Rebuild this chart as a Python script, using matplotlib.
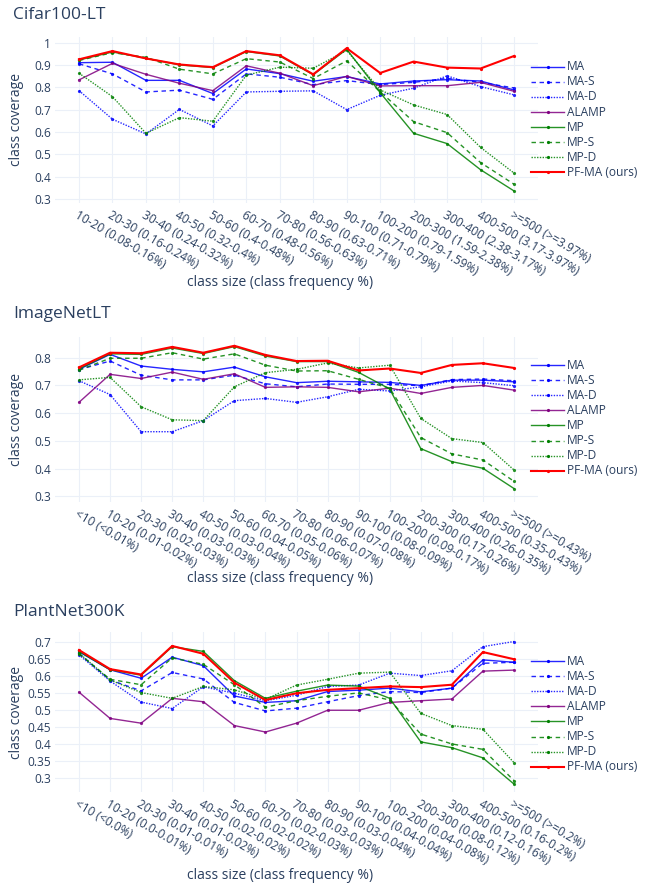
import matplotlib
matplotlib.use("Agg")

import matplotlib.pyplot as plt
from matplotlib.lines import Line2D
import numpy as np


# =========================================================
# DATA
# =========================================================

methods = ["MA", "MA-S", "MA-D", "ALAMP", "MP", "MP-S", "MP-D", "PF-MA (ours)"]

cifar_sizes = [
    "10-20 (0.08-0.16%)", "20-30 (0.16-0.24%)", "30-40 (0.24-0.32%)",
    "40-50 (0.32-0.4%)", "50-60 (0.4-0.48%)", "60-70 (0.48-0.56%)",
    "70-80 (0.56-0.63%)", "80-90 (0.63-0.71%)", "90-100 (0.71-0.79%)",
    "100-200 (0.79-1.59%)", "200-300 (1.59-2.38%)", "300-400 (2.38-3.17%)",
    "400-500 (3.17-3.97%)", ">=500 (>=3.97%)",
]
cifar_ma = [0.910, 0.912, 0.831, 0.831, 0.772, 0.882, 0.861, 0.827, 0.848, 0.815, 0.828, 0.834, 0.828, 0.788]
cifar_ma_s = [0.905, 0.860, 0.779, 0.787, 0.746, 0.860, 0.845, 0.812, 0.830, 0.812, 0.822, 0.840, 0.822, 0.797]
cifar_ma_d = [0.785, 0.657, 0.591, 0.701, 0.627, 0.779, 0.782, 0.784, 0.700, 0.764, 0.796, 0.851, 0.803, 0.766]
cifar_alamp = [0.833, 0.907, 0.858, 0.818, 0.785, 0.896, 0.863, 0.807, 0.849, 0.806, 0.807, 0.807, 0.822, 0.782]
cifar_mp = [0.922, 0.958, 0.930, 0.900, 0.888, 0.960, 0.940, 0.856, 0.970, 0.776, 0.594, 0.548, 0.431, 0.336]
cifar_mp_s = [0.920, 0.955, 0.934, 0.881, 0.860, 0.928, 0.913, 0.839, 0.918, 0.780, 0.646, 0.597, 0.463, 0.366]
cifar_mp_d = [0.863, 0.758, 0.594, 0.664, 0.648, 0.854, 0.890, 0.885, 0.965, 0.788, 0.721, 0.678, 0.531, 0.416]
cifar_pfma = [0.925, 0.962, 0.929, 0.902, 0.890, 0.962, 0.943, 0.858, 0.975, 0.864, 0.915, 0.888, 0.884, 0.940]

imagenet_sizes = [
    "<10 (<0.01%)", "10-20 (0.01-0.02%)", "20-30 (0.02-0.03%)",
    "30-40 (0.03-0.03%)", "40-50 (0.03-0.04%)", "50-60 (0.04-0.05%)",
    "60-70 (0.05-0.06%)", "70-80 (0.06-0.07%)", "80-90 (0.07-0.08%)",
    "90-100 (0.08-0.09%)", "100-200 (0.09-0.17%)", "200-300 (0.17-0.26%)",
    "300-400 (0.26-0.35%)", "400-500 (0.35-0.43%)", ">=500 (>=0.43%)",
]
imagenet_ma = [0.758, 0.812, 0.770, 0.758, 0.749, 0.766, 0.731, 0.710, 0.715, 0.713, 0.711, 0.700, 0.719, 0.719, 0.713]
imagenet_ma_s = [0.757, 0.788, 0.737, 0.720, 0.720, 0.737, 0.706, 0.695, 0.705, 0.704, 0.704, 0.699, 0.721, 0.723, 0.717]
imagenet_ma_d = [0.717, 0.667, 0.533, 0.533, 0.573, 0.645, 0.653, 0.639, 0.659, 0.686, 0.680, 0.695, 0.716, 0.710, 0.699]
imagenet_alamp = [0.639, 0.740, 0.725, 0.748, 0.722, 0.742, 0.693, 0.695, 0.693, 0.677, 0.690, 0.671, 0.693, 0.700, 0.683]
imagenet_mp = [0.760, 0.814, 0.812, 0.835, 0.815, 0.840, 0.806, 0.786, 0.786, 0.747, 0.687, 0.472, 0.425, 0.401, 0.328]
imagenet_mp_s = [0.755, 0.798, 0.798, 0.818, 0.795, 0.814, 0.773, 0.752, 0.753, 0.722, 0.690, 0.512, 0.453, 0.431, 0.354]
imagenet_mp_d = [0.720, 0.729, 0.623, 0.576, 0.573, 0.695, 0.746, 0.758, 0.781, 0.763, 0.773, 0.581, 0.508, 0.494, 0.395]
imagenet_pfma = [0.765, 0.818, 0.816, 0.839, 0.818, 0.843, 0.810, 0.788, 0.789, 0.754, 0.761, 0.745, 0.774, 0.780, 0.763]

plantnet_sizes = [
    "<10 (<0.0%)", "10-20 (0.0-0.01%)", "20-30 (0.01-0.01%)",
    "30-40 (0.01-0.02%)", "40-50 (0.02-0.02%)", "50-60 (0.02-0.02%)",
    "60-70 (0.02-0.03%)", "70-80 (0.03-0.03%)", "80-90 (0.03-0.04%)",
    "90-100 (0.04-0.04%)", "100-200 (0.04-0.08%)", "200-300 (0.08-0.12%)",
    "300-400 (0.12-0.16%)", "400-500 (0.16-0.2%)", ">=500 (>=0.2%)",
]
plantnet_ma = [0.672, 0.619, 0.594, 0.656, 0.631, 0.542, 0.523, 0.528, 0.555, 0.559, 0.565, 0.554, 0.565, 0.648, 0.641]
plantnet_ma_s = [0.667, 0.589, 0.557, 0.611, 0.592, 0.523, 0.498, 0.506, 0.525, 0.543, 0.555, 0.552, 0.565, 0.638, 0.641]
plantnet_ma_d = [0.663, 0.586, 0.524, 0.505, 0.569, 0.550, 0.528, 0.544, 0.570, 0.574, 0.609, 0.602, 0.616, 0.687, 0.702]
plantnet_alamp = [0.553, 0.476, 0.462, 0.535, 0.525, 0.455, 0.436, 0.462, 0.500, 0.500, 0.523, 0.528, 0.533, 0.615, 0.618]
plantnet_mp = [0.673, 0.619, 0.603, 0.687, 0.673, 0.587, 0.535, 0.556, 0.574, 0.571, 0.535, 0.407, 0.390, 0.360, 0.283]
plantnet_mp_s = [0.666, 0.591, 0.575, 0.654, 0.635, 0.575, 0.509, 0.528, 0.541, 0.551, 0.530, 0.430, 0.401, 0.385, 0.293]
plantnet_mp_d = [0.668, 0.589, 0.552, 0.535, 0.570, 0.560, 0.532, 0.574, 0.591, 0.609, 0.612, 0.491, 0.455, 0.444, 0.346]
plantnet_pfma = [0.677, 0.621, 0.605, 0.689, 0.666, 0.581, 0.530, 0.550, 0.560, 0.565, 0.570, 0.568, 0.575, 0.671, 0.650]

cifar_yticks = [0.3, 0.4, 0.5, 0.6, 0.7, 0.8, 0.9, 1.0]
imagenet_yticks = [0.3, 0.4, 0.5, 0.6, 0.7, 0.8]
plantnet_yticks = [0.3, 0.35, 0.4, 0.45, 0.5, 0.55, 0.6, 0.65, 0.7]


# =========================================================
# STYLE
# =========================================================

W, H = 647, 888
TEXT = "#2a3f5f"
GRID = "#ebf0f8"

plt.rcParams["font.family"] = ["Open Sans", "DejaVu Sans"]

DASH = (3.2, 2.6)
DOT = (1.0, 1.0)

line_styles = {
    "MA": dict(color="blue", dashes=()),
    "MA-S": dict(color="blue", dashes=DASH),
    "MA-D": dict(color="blue", dashes=DOT),
    "ALAMP": dict(color="purple", dashes=()),
    "MP": dict(color="green", dashes=()),
    "MP-S": dict(color="green", dashes=DASH),
    "MP-D": dict(color="green", dashes=DOT),
    "PF-MA (ours)": dict(color="red", dashes=()),
}


def style_for(name):
    st = dict(line_styles[name])
    if name == "PF-MA (ours)":
        st.update(linewidth=1.5, alpha=1.0)
    else:
        st.update(linewidth=1.0, alpha=0.85)
    st.update(marker="o", markersize=2.3, markeredgewidth=0)
    if not st["dashes"]:
        st.pop("dashes")
        st["linestyle"] = "-"
    return st


def fx(px):
    return px / W


def fy(py):
    return 1 - py / H


# =========================================================
# PANELS
# =========================================================

panels = [
    dict(
        title="Cifar100-LT", title_y=15, sizes=cifar_sizes,
        series=[cifar_ma, cifar_ma_s, cifar_ma_d, cifar_alamp,
                cifar_mp, cifar_mp_s, cifar_mp_d, cifar_pfma],
        top=37, bottom=203, ylim=(0.282, 1.025), yticks=cifar_yticks,
        legend_y=66.7, xlabel_y=282,
    ),
    dict(
        title="ImageNetLT", title_y=314, sizes=imagenet_sizes,
        series=[imagenet_ma, imagenet_ma_s, imagenet_ma_d, imagenet_alamp,
                imagenet_mp, imagenet_mp_s, imagenet_mp_d, imagenet_pfma],
        top=337, bottom=502, ylim=(0.2794, 0.8747), yticks=imagenet_yticks,
        legend_y=365, xlabel_y=579,
    ),
    dict(
        title="PlantNet300K", title_y=612, sizes=plantnet_sizes,
        series=[plantnet_ma, plantnet_ma_s, plantnet_ma_d, plantnet_alamp,
                plantnet_mp, plantnet_mp_s, plantnet_mp_d, plantnet_pfma],
        top=632, bottom=792, ylim=(0.2597, 0.730), yticks=plantnet_yticks,
        legend_y=661, xlabel_y=875,
    ),
]

LEFT, RIGHT = 55, 538

fig = plt.figure(figsize=(W / 100, H / 100), dpi=100)
fig.patch.set_facecolor("white")

for p in panels:

    ax = fig.add_axes([
        fx(LEFT), fy(p["bottom"]),
        (RIGHT - LEFT) / W, (p["bottom"] - p["top"]) / H,
    ])

    x = np.arange(len(p["sizes"]))

    for name, vals in zip(methods, p["series"]):
        ax.plot(x, vals, **style_for(name))

    # category axis padded a little past the first and last class
    n = len(p["sizes"])
    pad = 24 / ((RIGHT - LEFT - 48) / (n - 1))
    ax.set_xlim(-pad, n - 1 + pad)
    ax.set_ylim(*p["ylim"])

    ax.set_xticks(x)
    ax.set_xticklabels(p["sizes"], rotation=-30, ha="left", va="top",
                       rotation_mode="anchor")
    ax.set_yticks(p["yticks"])
    ax.set_yticklabels([f"{v:g}" for v in p["yticks"]])

    ax.tick_params(axis="both", length=0, labelsize=8.6, colors=TEXT)
    ax.tick_params(axis="x", pad=4)
    ax.tick_params(axis="y", pad=3)

    ax.grid(True, color=GRID, linewidth=0.8)
    ax.set_axisbelow(True)
    for s in ax.spines.values():
        s.set_visible(False)

    # titles
    fig.text(fx(13), fy(p["title_y"]), p["title"], fontsize=12.5,
             color=TEXT, ha="left", va="center")
    fig.text(fx(280), fy(p["xlabel_y"]), "class size (class frequency %)",
             fontsize=10, color=TEXT, ha="center", va="center")
    fig.text(fx(17), fy((p["top"] + p["bottom"]) / 2), "class coverage",
             fontsize=10, color=TEXT, ha="center", va="center",
             rotation=90)

    # legend
    for i, name in enumerate(methods):
        ly = p["legend_y"] + 15.1 * i
        st = style_for(name)
        fig.add_artist(Line2D([fx(531), fx(564)], [fy(ly), fy(ly)],
                              transform=fig.transFigure,
                              **{k: v for k, v in st.items()
                                 if k not in ("marker", "markersize",
                                              "markeredgewidth")}))
        fig.add_artist(Line2D([fx(547.5)], [fy(ly)],
                              transform=fig.transFigure, linestyle="none",
                              marker="o", markersize=2.3,
                              markeredgewidth=0, color=st["color"]))
        fig.text(fx(567), fy(ly), name, fontsize=8.6, color=TEXT,
                 ha="left", va="center")

plt.savefig("out.png", dpi=100)
plt.close()
